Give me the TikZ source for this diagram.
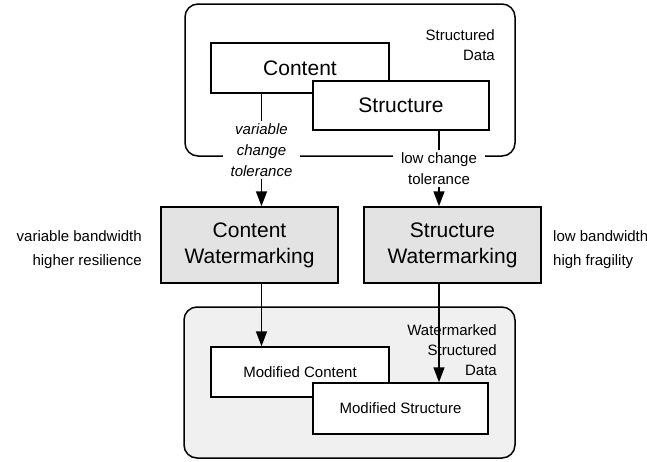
\documentclass[tikz,border=0pt]{standalone}
\usepackage{fontspec}
\setmainfont{Liberation Sans}
\usetikzlibrary{arrows.meta,positioning}

\begin{document}
\begin{tikzpicture}[x=1pt,y=-1pt]
		\tikzstyle{every node}=[font=\fontsize{15}{20}\selectfont]
		\tikzstyle{box}=[draw, line width=1.5pt, fill=white, inner sep=0pt, font=\fontsize{21}{26}\selectfont]
		\tikzstyle{wmbox}=[box, fill=black!11, minimum width=177pt, minimum height=76pt, align=center]
		\tikzstyle{smallbox}=[box, font=\fontsize{15}{20}\selectfont]
		\tikzstyle{frame}=[line width=1.5pt, rounded corners=13pt]
		\tikzstyle{flow}=[line width=1.5pt, -{Triangle[width=11pt,length=15pt]}]
		\tikzstyle{tol}=[fill=white, inner xsep=8pt, inner ysep=2pt, align=center, font=\fontsize{15}{21}\selectfont]
		\tikzstyle{note}=[inner sep=0pt, font=\fontsize{15}{24}\selectfont]
		\useasboundingbox (0,0) rectangle (647,461);
		\draw [frame] (185,4) rectangle (515,156);
		\node [anchor=east, align=right, inner sep=0pt] (sdata) at (495,45) {Structured\\Data};
		\node [box, minimum width=178pt, minimum height=50pt] (content) at (300,68) {Content};
		\node [box, minimum width=176pt, minimum height=49pt] (structure) at (401,105.5) {Structure};
		\node [wmbox] (cwm) at (249.5,245) {Content\\Watermarking};
		\node [wmbox] (swm) at (452.5,245) {Structure\\Watermarking};
		\node [note, anchor=east, align=right] (lnote) at (142,250) {variable bandwidth\\higher resilience};
		\node [note, anchor=west, align=left] (rnote) at (553,250) {low bandwidth\\high fragility};
		\draw [flow] ([xshift=-38.5pt]content.south) -- node[tol, font=\fontsize{15}{21}\selectfont\itshape] (ctol) {variable\\change\\tolerance} ([xshift=12pt]cwm.north);
		\draw [flow] ([xshift=38pt]structure.south) -- node[tol] (stol) {low change\\tolerance} ([xshift=-13.5pt]swm.north);
		\draw [frame, fill=black!6] (184,307) rectangle (515,458);
		\node [anchor=east, align=right, inner sep=0pt] (wsdata) at (497,350) {Watermarked\\Structured\\Data};
		\node [smallbox, minimum width=178pt, minimum height=50pt] (mcontent) at (300,372) {Modified Content};
		\node [smallbox, minimum width=175pt, minimum height=51pt] (mstructure) at (400.5,408.5) {Modified Structure};
		\draw [flow] ([xshift=12pt]cwm.south) -- ([xshift=-38.5pt]mcontent.north);
		\draw [flow] ([xshift=-13.5pt]swm.south) -- ([xshift=38.5pt]mstructure.north);
	\end{tikzpicture}
\end{document}
